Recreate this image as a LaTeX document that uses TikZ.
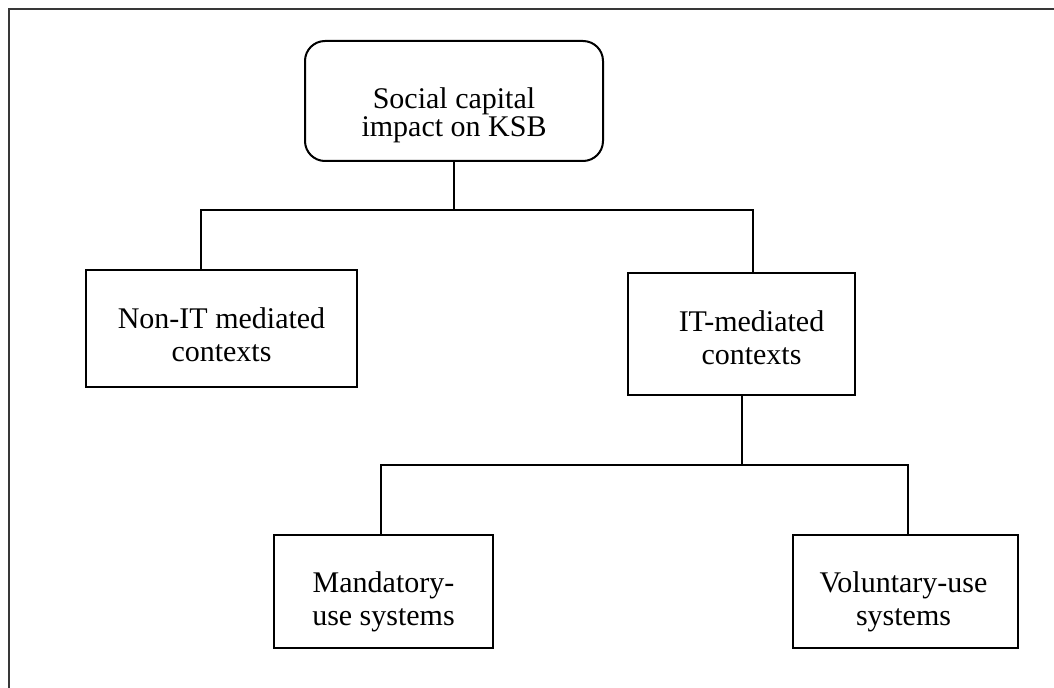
\documentclass[tikz,border=0pt]{standalone}
\usepackage{fontspec}
\setmainfont{Liberation Serif}
\usetikzlibrary{calc}
\begin{document}
\begin{tikzpicture}[x=0.75pt,y=-0.75pt,
  every node/.style={align=center, inner sep=0pt},
  box/.style={draw=black, line width=1.5pt, rectangle},
  rootbox/.style={box, rounded corners=15pt},
  label/.style={font=\fontsize{22.5}{25}\selectfont},
  rootlabel/.style={font=\fontsize{22.5}{21}\selectfont},
  link/.style={draw=black, line width=1.5pt}]
  \useasboundingbox (0,0) rectangle (1054,688);
  % frame edges along the top and left
  \draw[black!78, line width=1.5pt] (8.5,688) -- (8.5,9.5) -- (1054,9.5);

  % boxes
  \node[rootbox, minimum width=223.5pt, minimum height=90pt] (root) at (454,101) {};
  \node[box, minimum width=203.25pt, minimum height=87.75pt] (nonit) at (221.5,328.5) {};
  \node[box, minimum width=170.25pt, minimum height=91.5pt] (it) at (741.5,334) {};
  \node[box, minimum width=164.25pt, minimum height=84.75pt] (mand) at (383.5,591.5) {};
  \node[box, minimum width=168.75pt, minimum height=84.75pt] (vol) at (905.5,591.5) {};

  % box texts
  \node[rootlabel] (root-t) at ($(root.center)+(0,14)$) {Social capital\\impact on KSB};
  \node[label] (nonit-t) at ($(nonit.center)+(0,6)$) {Non-IT mediated\\contexts};
  \node[label] (it-t) at ($(it.center)+(10,4)$) {IT-mediated\\contexts};
  \node[label] (mand-t) at ($(mand.center)+(0,10)$) {Mandatory-\\use systems};
  \node[label] (vol-t) at ($(vol.center)+(-2,10)$) {Voluntary-use\\systems};

  % first level branching
  \coordinate (b1) at (454,210);
  \coordinate (b1l) at (201,210);
  \coordinate (b1r) at (753,210);
  \draw[link] (root.south) -- (b1);
  \draw[link] (b1l |- nonit.north) -- (b1l) -- (b1r) -- (b1r |- it.north);

  % second level branching
  \coordinate (b2) at (741.5,465);
  \coordinate (b2l) at (381,465);
  \coordinate (b2r) at (908,465);
  \draw[link] (it.south) -- (b2);
  \draw[link] (b2l |- mand.north) -- (b2l) -- (b2r) -- (b2r |- vol.north);
\end{tikzpicture}
\end{document}
